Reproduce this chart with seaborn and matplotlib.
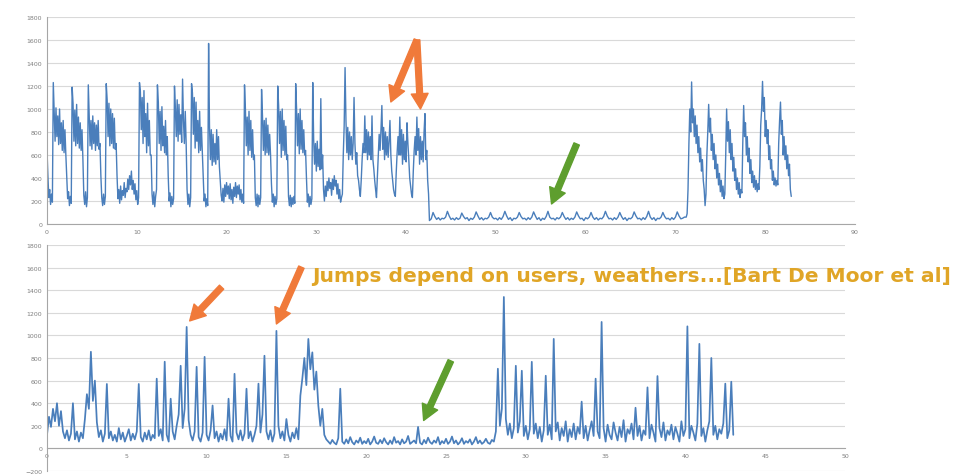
import numpy as np
import pandas as pd
import matplotlib
matplotlib.use("Agg")
import matplotlib.pyplot as plt
import seaborn as sns

# ---- Upper trace ----
# busy weeks, sampled every 0.1 time units from t = 0
top_busy_start, top_busy_step = 0.0, 0.1
top_week1 = [640, 420, 230, 300, 170, 260, 190,
             1230, 980, 720, 1010, 760, 940, 690, 1000, 700, 880, 640, 900, 620, 820, 600, 420, 220, 280, 160, 240, 180,
             1190, 1050, 720, 990, 680, 1040, 700, 930, 660, 880, 640, 820, 560, 250, 170, 280, 150, 230,
             1210, 930, 680, 900, 650, 940, 700, 880, 640, 860, 680, 900, 650, 700, 420, 230, 160, 260, 170, 240,
             1220, 1080, 760, 1050, 680, 1000, 700, 960, 660, 920, 650, 700,
             420, 220, 300, 180, 330, 210, 290, 250, 360, 230, 310, 280, 390, 300, 420, 340, 460, 300, 380, 260,
             350, 210, 290, 170, 230]
top_week2 = [1230, 1150, 820, 1100, 700, 1160, 760, 960, 620, 1050, 680, 900, 600, 600, 260, 170, 280, 150, 240,
             300, 1210, 1060, 700, 980, 640, 1020, 680, 850, 620, 900, 600, 760, 420, 200, 270, 150, 240, 170, 220,
             1200, 1000, 760, 1080, 720, 1040, 780, 950, 710, 1260, 900, 700, 980, 700, 300, 170, 260, 150, 230,
             1220, 1140, 780, 1100, 660, 1060, 720, 900, 620, 980, 640, 840, 620, 380, 200, 260, 150, 220, 160,
             1570, 850, 560, 820, 510, 780, 540, 700, 520, 820, 560, 760, 500, 380, 250, 200,
             310, 190, 340, 240, 360, 260, 330, 220, 350, 210, 300, 180, 320, 240, 360, 230, 330, 260, 340, 210,
             300, 190, 260, 180]
top_week3 = [1210, 1000, 680, 930, 600, 980, 640, 900, 580, 820, 560, 600, 230, 160, 260, 150, 250, 170, 230,
             1170, 940, 640, 900, 600, 920, 620, 860, 600, 780, 600, 350, 190, 260, 150, 240, 170, 220,
             1200, 1030, 700, 980, 580, 1000, 640, 900, 600, 850, 560, 600, 240, 160, 250, 150, 230, 170, 240, 180,
             1220, 1000, 680, 960, 610, 1000, 650, 900, 620, 820, 600, 640, 400, 190, 260, 150, 240, 170, 220,
             1230, 740, 520, 700, 460, 720, 500, 650, 470, 1090, 480, 600, 300,
             200, 330, 240, 370, 290, 400, 310, 360, 250, 390, 300, 420, 330, 380, 260, 350, 220, 300, 190, 230]
top_week4 = [260, 600, 850, 1360, 900, 620, 840, 560, 800, 600, 760, 560, 700, 1100, 700, 520, 620, 420, 380, 300,
             240, 380, 560, 700, 620, 940, 620, 820, 560, 800, 600, 760, 560, 940, 560, 480, 380, 300, 230, 420,
             600, 780, 640, 820, 1030, 650, 840, 560, 800, 600, 760, 580, 720, 900, 600, 460, 380, 300, 260, 240,
             450, 620, 760, 600, 930, 600, 820, 520, 780, 560, 720, 540, 880, 700, 560, 400, 330, 260, 230, 460,
             640, 760, 600, 930, 640, 830, 520, 760, 560, 720, 540, 800, 960, 560, 640, 380, 260]
# idle weeks, sampled every 0.2 time units
top_idle_start, top_idle_step = 42.6, 0.2
top_idle = [30, 45, 100, 65, 40, 55, 35, 50, 45,
            60, 110, 70, 40, 50, 35, 55, 40, 50,
            95, 65, 45, 55, 30, 50, 40, 60, 105,
            70, 40, 55, 35, 50, 45, 60, 100, 60,
            45, 50, 35, 55, 40, 65, 110, 70, 40,
            55, 30, 50, 45, 60, 100, 65, 45, 50,
            35, 55, 40, 60, 105, 70, 40, 55, 30,
            50, 40, 65, 110, 60, 45, 50, 35, 55,
            45, 60, 100, 65, 40, 55, 35, 50, 40,
            60, 105, 70, 45, 50, 30, 55, 45, 60,
            100, 60, 40, 55, 35, 50, 45, 65, 110,
            70, 45, 50, 35, 55, 40, 60, 100, 65,
            40, 55, 30, 50, 45, 60, 105, 70, 45,
            50, 35, 55, 40, 65, 110, 60, 40, 55,
            30, 50, 45, 60, 100, 65, 45, 50, 35,
            55, 40, 60, 105, 70, 45, 50, 60]
# return to normal use, sampled every 0.1 time units
top_return_start, top_return_step = 71.2, 0.1
top_return = [60, 90, 300, 700, 1000, 800, 1235, 880, 1000, 760, 940, 700, 860, 620, 760, 540, 660, 460, 560, 380,
              300, 160, 260, 600, 800, 1040, 800, 920, 640, 780, 560, 700, 480, 600, 400, 520, 340, 440, 280, 380,
              240, 330, 220, 260, 600, 1000, 720, 890, 620, 820, 560, 700, 460, 580, 380, 480, 300, 400, 260, 360,
              230, 300, 270, 700, 1030, 760, 880, 600, 760, 540, 660, 440, 560, 360, 460, 320, 420, 300, 380, 280,
              350, 300, 500, 860, 1000, 1240, 980, 1100, 760, 900, 700, 820, 560, 680, 480, 560, 380, 460, 340, 400,
              330, 380, 340, 700, 900, 1060, 780, 900, 600, 760, 560, 680, 480, 600, 420, 520, 300, 240]

# ---- Lower trace: sampled every 0.125 time units from t = 0 ----
bottom_start, bottom_step = 0.0, 0.125
bottom_early = [120, 280, 190, 350, 240, 400, 200, 330, 150,
                90, 160, 70, 130, 400,
                80, 150, 60, 140, 90,
                260, 480, 350, 855, 420, 600, 230,
                100, 160, 60, 130, 570,
                90, 150, 70, 120, 60, 180, 80, 140, 60, 110, 170, 70, 130, 80, 150,
                570, 100, 60, 140, 80, 160, 70, 120, 90,
                617, 110, 170, 70, 767, 120, 60, 440,
                150, 80, 200, 300,
                731, 180, 350, 1075, 250, 120,
                70, 150, 722, 100, 60, 140, 810,
                120, 70, 160, 380,
                90, 150, 60, 130, 80, 170, 70, 440,
                110, 60, 660, 140, 80, 160, 70, 130, 528,
                90, 150, 60, 120, 200, 573,
                140, 300, 820, 150,
                80, 160, 60, 130, 1040,
                200, 90, 150, 70, 260, 120, 60, 140, 90, 180, 80, 467,
                620, 800, 560, 969, 700, 850, 520, 680, 380,
                200, 350, 120, 80]
bottom_quiet = [60, 40, 75, 50, 35, 90, 528, 60, 40,
                80, 45, 100, 55, 35, 70, 50, 95, 40,
                65, 45, 85, 35, 60, 105, 50, 40, 75,
                45, 90, 55, 35, 70, 40, 100, 50, 65,
                35, 80, 45, 60, 110, 40, 55, 70, 45,
                190, 50, 35, 75, 45, 95, 55, 40, 70,
                50, 100, 35, 65, 45, 85, 40, 60, 105,
                45, 70, 35, 55, 90, 40, 65, 50, 80,
                35, 60, 100, 45, 70, 40, 55, 85, 50,
                40, 75, 60]
bottom_late = [150, 705, 200, 350, 1340, 260, 120, 220, 90,
               180, 731, 140, 240, 687, 110, 200, 80, 170,
               766, 130, 220, 90, 190, 60, 160, 643, 120,
               210, 80, 969, 150, 230, 70, 180, 110, 240,
               60, 170, 100, 220, 80, 190, 130, 414, 90,
               200, 70, 160, 240, 110, 617, 150, 90, 1119,
               180, 60, 210, 120, 80, 230, 140, 70, 190,
               100, 250, 60, 170, 130, 220, 80, 360, 110,
               200, 70, 160, 120, 540, 90, 210, 140, 60,
               640, 180, 100, 230, 70, 160, 120, 210, 80,
               190, 130, 60, 240, 110, 170, 1080, 90, 200,
               140, 70, 220, 925, 110, 180, 60, 160, 240,
               800, 120, 200, 80, 170, 130, 220, 573, 90,
               160, 590, 120]

top_xticks = list(range(0, 91, 10))
top_yticks = list(range(0, 1801, 200))
bottom_xticks = list(range(0, 51, 5))
bottom_yticks = list(range(-200, 1801, 200))

caption = "Jumps depend on users, weathers...[Bart De Moor et al]"

LINE = "#4A7EBB"
GRID = "#D9D9D9"
AXIS = "#A6A6A6"
TICK = "#7F7F7F"
ORANGE = "#F07A3A"
GREEN = "#5E9E2E"
GOLD = "#E0A526"


def timed(values, start, step):
    return pd.DataFrame({"t": start + np.arange(len(values)) * step, "load": values})


top_busy = top_week1 + top_week2 + top_week3 + top_week4
top_df = pd.concat([timed(top_busy, top_busy_start, top_busy_step),
                    timed(top_idle, top_idle_start, top_idle_step),
                    timed(top_return, top_return_start, top_return_step)],
                   ignore_index=True)
bottom_df = timed(bottom_early + bottom_quiet + bottom_late, bottom_start, bottom_step)

sns.set_theme(style="white")
plt.rcParams["font.family"] = ["DejaVu Sans"]

W, H = 958, 477
fig = plt.figure(figsize=(W / 100, H / 100), dpi=100)
fig.patch.set_facecolor("white")


def px_axes(x0, y0, x1, y1):
    return fig.add_axes([x0 / W, 1 - y1 / H, (x1 - x0) / W, (y1 - y0) / H])


ax_top = px_axes(47, 18, 855, 225)
ax_bot = px_axes(47, 246, 845, 472)


def style(ax, xticks, yticks):
    ax.set_facecolor("white")
    ax.set_xticks(xticks)
    ax.set_yticks(yticks)
    ax.set_xlim(xticks[0], xticks[-1])
    ax.set_ylim(yticks[0], yticks[-1])
    ax.grid(axis="y", color=GRID, lw=0.8)
    ax.grid(axis="x", visible=False)
    ax.set_axisbelow(True)
    for s in ("top", "right"):
        ax.spines[s].set_visible(False)
    ax.spines["left"].set_color(AXIS)
    ax.spines["left"].set_linewidth(0.8)
    ax.spines["bottom"].set_position(("data", 0))
    ax.spines["bottom"].set_color(AXIS)
    ax.spines["bottom"].set_linewidth(0.8)
    ax.tick_params(axis="both", labelsize=4.5, labelcolor=TICK, color=AXIS,
                   length=2, width=0.6, pad=1.5)
    ax.set_xlabel("")
    ax.set_ylabel("")


sns.lineplot(data=top_df, x="t", y="load", ax=ax_top, color=LINE, lw=1.0,
             estimator=None, sort=False)
sns.lineplot(data=bottom_df, x="t", y="load", ax=ax_bot, color=LINE, lw=1.25,
             estimator=None, sort=False)
style(ax_top, top_xticks, top_yticks)
style(ax_bot, bottom_xticks, bottom_yticks)


def arrow(ax, head, tail, color):
    ax.annotate("", xy=head, xytext=tail, annotation_clip=False,
                arrowprops=dict(arrowstyle="simple,head_width=1.1,head_length=1.0,tail_width=0.38",
                                color=color, shrinkA=0, shrinkB=0, mutation_scale=11))


# upper panel pointers
arrow(ax_top, (38.3, 1061), (41.2, 1600), ORANGE)
arrow(ax_top, (41.6, 1000), (41.2, 1600), ORANGE)
arrow(ax_top, (56.2, 174), (59.0, 696), GREEN)
# lower panel pointers
arrow(ax_bot, (8.94, 1128), (10.94, 1427), ORANGE)
arrow(ax_bot, (14.375, 1101), (15.94, 1604), ORANGE)
arrow(ax_bot, (23.6, 247), (25.3, 775), GREEN)

fig.text(312 / W, 1 - 277 / H, caption, color=GOLD, fontsize=14.6,
         fontweight="bold", ha="left", va="center")

fig.savefig("out.png", dpi=100, facecolor="white")
